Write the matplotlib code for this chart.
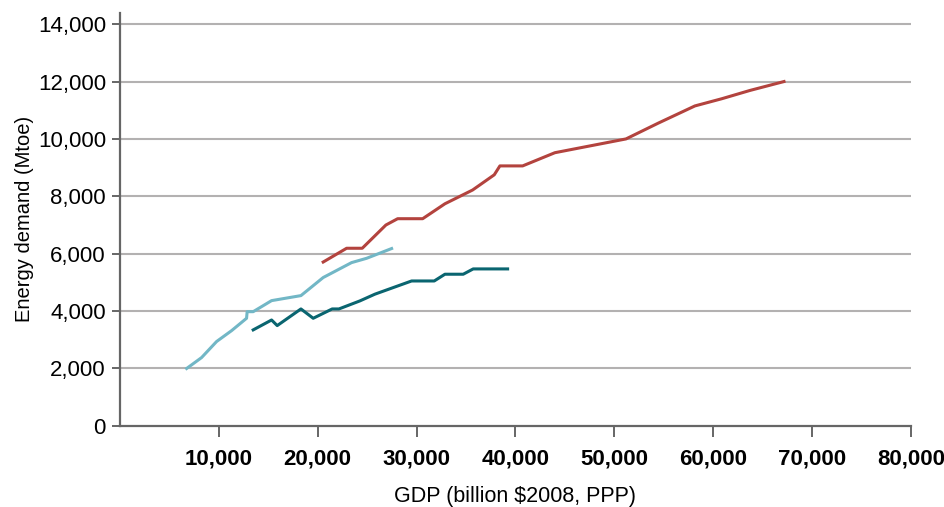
import matplotlib
matplotlib.use('Agg')
import matplotlib.pyplot as plt
from matplotlib.ticker import FuncFormatter

plt.rcParams['font.family'] = ['Liberation Sans', 'DejaVu Sans']

# GDP (billion $2008, PPP) vs energy demand (Mtoe), three trajectories
red_gdp = [20560, 22930, 24510, 26900, 28090, 30620, 32870, 35670, 37860,
           38430, 40730, 43990, 51180, 54440, 58150, 60860, 63720, 67160]
red_energy = [5710, 6190, 6190, 7000, 7220, 7220, 7740, 8220, 8750,
              9060, 9060, 9520, 10000, 10550, 11150, 11400, 11690, 12000]

light_gdp = [6750, 8260, 9780, 11300, 12810, 12870, 13480, 15340, 18310,
             20560, 23430, 24950, 27480]
light_energy = [2000, 2380, 2940, 3320, 3750, 3980, 3980, 4365, 4540,
                5170, 5690, 5840, 6180]

dark_gdp = [13480, 15340, 15910, 18310, 19550, 21470, 22150, 24270, 25790,
            29500, 31790, 32870, 34720, 35730, 39210]
dark_energy = [3345, 3690, 3495, 4075, 3750, 4075, 4075, 4355, 4590,
               5050, 5050, 5285, 5285, 5470, 5470]

x_ticks = [10000, 20000, 30000, 40000, 50000, 60000, 70000, 80000]
y_ticks = [0, 2000, 4000, 6000, 8000, 10000, 12000, 14000]

fig = plt.figure(figsize=(9.44, 5.07), dpi=100)
ax = fig.add_axes([0.127, 0.16, 0.838, 0.815])

for y in y_ticks[1:]:
    ax.axhline(y, color='#b3b1b1', lw=1.5, zorder=1)

ax.plot(light_gdp, light_energy, color='#72b7c6', lw=2.2, zorder=3)
ax.plot(dark_gdp, dark_energy, color='#0a6570', lw=2.2, zorder=3)
ax.plot(red_gdp, red_energy, color='#b3433e', lw=2.2, zorder=3)

ax.set_xlim(0, 80000)
ax.set_ylim(0, 14400)
ax.set_xticks(x_ticks)
ax.set_yticks(y_ticks)
fmt = FuncFormatter(lambda v, p: f'{int(v):,}')
ax.xaxis.set_major_formatter(fmt)
ax.yaxis.set_major_formatter(fmt)

for side in ['top', 'right']:
    ax.spines[side].set_visible(False)
for side in ['left', 'bottom']:
    ax.spines[side].set_color('#666666')
    ax.spines[side].set_linewidth(1.6)

ax.tick_params(axis='x', direction='out', length=8, width=1.4,
               color='#666666', pad=8, labelsize=16)
ax.tick_params(axis='y', direction='out', length=6, width=1.4,
               color='#666666', pad=4, labelsize=16)
for lbl in ax.get_xticklabels():
    lbl.set_fontweight('bold')
    lbl.set_horizontalalignment('center')

ax.set_xlabel('GDP (billion $2008, PPP)', fontsize=15.5, labelpad=12)
ax.set_ylabel('Energy demand (Mtoe)', fontsize=14.5, labelpad=3)

fig.savefig('out.png', dpi=100)
